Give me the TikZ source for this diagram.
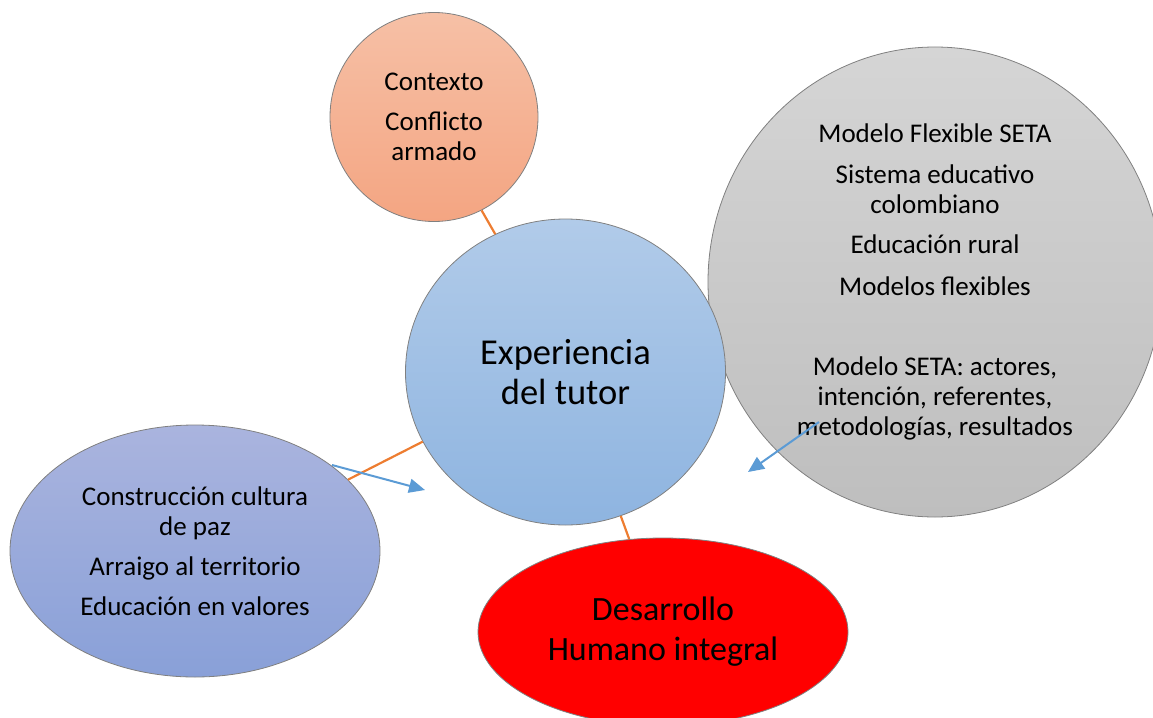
\documentclass[tikz,border=0pt]{standalone}
\usepackage{fontspec}
\setmainfont{Carlito}
\usetikzlibrary{shapes.geometric,arrows.meta}
\definecolor{lnorange}{HTML}{ED7D31}
\definecolor{arrblue}{HTML}{5B9BD5}
\definecolor{rim}{HTML}{808080}
\definecolor{ctxtop}{RGB}{246,192,166}
\definecolor{ctxbot}{RGB}{244,165,130}
\definecolor{setatop}{RGB}{213,213,213}
\definecolor{setabot}{RGB}{190,190,190}
\definecolor{exptop}{RGB}{177,203,233}
\definecolor{expbot}{RGB}{142,180,224}
\definecolor{cultop}{RGB}{170,180,222}
\definecolor{culbot}{RGB}{137,160,216}
\tikzset{
  bub/.style={ellipse, draw=rim, line width=0.8pt, inner sep=0pt, align=center, text=black},
  link/.style={draw=lnorange, line width=2.2pt},
  pointer/.style={draw=arrblue, line width=2pt, -{Triangle[length=16pt,width=14pt]}},
  smalltxt/.style={font=\fontsize{27}{30}\selectfont},
  bigtxt/.style={font=\fontsize{36.5}{40}\selectfont},
  bigrtxt/.style={font=\fontsize{34}{40}\selectfont}
}
\begin{document}
\begin{tikzpicture}[x=1pt,y=-1pt]
\useasboundingbox (0,0) rectangle (1153,717);
\node[bub, smalltxt, minimum width=208pt, minimum height=209pt, top color=ctxtop, bottom color=ctxbot] (ctx) at (434,117) {Contexto\\[10pt]Conflicto\\armado};
\node[bub, smalltxt, minimum width=454pt, minimum height=470pt, top color=setatop, bottom color=setabot] (seta) at (935,282) {Modelo Flexible SETA\\[11pt]Sistema educativo\\colombiano\\[10pt]Educación rural\\[12pt]Modelos flexibles\\[50pt]Modelo SETA: actores,\\intención, referentes,\\metodologías, resultados};
\node[bub, bigtxt, minimum width=320pt, minimum height=306pt, top color=exptop, bottom color=expbot] (exp) at (565.5,372) {Experiencia\\del tutor};
\node[bub, smalltxt, minimum width=370pt, minimum height=252pt, top color=cultop, bottom color=culbot] (cul) at (195,551) {Construcción cultura\\de paz\\[10pt]Arraigo al territorio\\[10pt]Educación en valores};
\node[bub, bigrtxt, minimum width=370pt, minimum height=188pt, fill=red] (dh) at (663,632) {Desarrollo\\Humano integral};
\draw[link] (ctx.-63) -- (exp.117);
\draw[link] (exp.-69.5) -- (dh.110);
\draw[link] (exp.206) -- (cul.25.6);
\coordinate (a1s) at (332,465);
\coordinate (a1e) at (425,490);
\coordinate (a2s) at (819,422);
\coordinate (a2e) at (748,472);
\draw[pointer] (a1s) -- (a1e);
\draw[pointer] (a2s) -- (a2e);
\end{tikzpicture}
\end{document}
